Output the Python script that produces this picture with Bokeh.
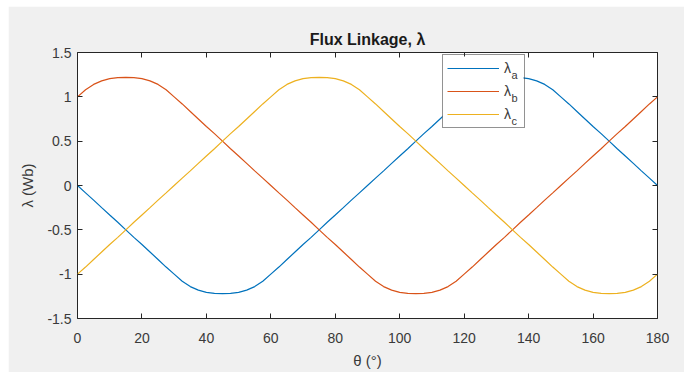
from bokeh.plotting import figure
from bokeh.models import Range1d, FixedTicker, LinearAxis, Legend, LegendItem, Label, BoxAnnotation
from bokeh.embed import file_html
from bokeh.resources import INLINE

# rotor angle (degrees)
theta = [0, 2.5, 5, 7.5, 10, 12.5, 15, 17.5, 20, 22.5, 25, 27.5, 30, 32.5, 35, 37.5,
         40, 42.5, 45, 47.5, 50, 52.5, 55, 57.5, 60, 62.5, 65, 67.5, 70, 72.5, 75, 77.5,
         80, 82.5, 85, 87.5, 90, 92.5, 95, 97.5, 100, 102.5, 105, 107.5, 110, 112.5, 115,
         117.5, 120, 122.5, 125, 127.5, 130, 132.5, 135, 137.5, 140, 142.5, 145, 147.5,
         150, 152.5, 155, 157.5, 160, 162.5, 165, 167.5, 170, 172.5, 175, 177.5, 180]

lambda_a = [0, -0.083, -0.165, -0.25, -0.333, -0.415, -0.5, -0.585, -0.665, -0.75, -0.835,
            -0.92, -1.0, -1.08, -1.14, -1.18, -1.205, -1.217, -1.22,
            -1.217, -1.205, -1.18, -1.14, -1.08, -1.0, -0.92, -0.835, -0.75, -0.665,
            -0.585, -0.5, -0.415, -0.333, -0.25, -0.165, -0.083, 0,
            0.083, 0.165, 0.25, 0.333, 0.415, 0.5, 0.585, 0.665, 0.75, 0.835, 0.92, 1.0,
            1.08, 1.14, 1.18, 1.205, 1.217, 1.22,
            1.217, 1.205, 1.18, 1.14, 1.08, 1.0, 0.92, 0.835, 0.75, 0.665, 0.585, 0.5,
            0.415, 0.333, 0.25, 0.165, 0.083, 0]

lambda_b = [1.0, 1.08, 1.14, 1.18, 1.205, 1.217, 1.22,
            1.217, 1.205, 1.18, 1.14, 1.08, 1.0, 0.92, 0.835, 0.75, 0.665, 0.585, 0.5,
            0.415, 0.333, 0.25, 0.165, 0.083, 0, -0.083, -0.165, -0.25, -0.333, -0.415,
            -0.5, -0.585, -0.665, -0.75, -0.835, -0.92, -1.0, -1.08, -1.14, -1.18, -1.205,
            -1.217, -1.22,
            -1.217, -1.205, -1.18, -1.14, -1.08, -1.0, -0.92, -0.835, -0.75, -0.665, -0.585,
            -0.5, -0.415, -0.333, -0.25, -0.165, -0.083, 0, 0.083, 0.165, 0.25, 0.333,
            0.415, 0.5, 0.585, 0.665, 0.75, 0.835, 0.92, 1.0]

lambda_c = [-1.0, -0.92, -0.835, -0.75, -0.665, -0.585, -0.5, -0.415, -0.333, -0.25, -0.165,
            -0.083, 0, 0.083, 0.165, 0.25, 0.333, 0.415, 0.5, 0.585, 0.665, 0.75, 0.835,
            0.92, 1.0, 1.08, 1.14, 1.18, 1.205, 1.217, 1.22,
            1.217, 1.205, 1.18, 1.14, 1.08, 1.0, 0.92, 0.835, 0.75, 0.665, 0.585, 0.5,
            0.415, 0.333, 0.25, 0.165, 0.083, 0, -0.083, -0.165, -0.25, -0.333, -0.415,
            -0.5, -0.585, -0.665, -0.75, -0.835, -0.92, -1.0, -1.08, -1.14, -1.18, -1.205,
            -1.217, -1.22,
            -1.217, -1.205, -1.18, -1.14, -1.08, -1.0]

series_names = ["a", "b", "c"]
series_colors = ["#0072BD", "#D95319", "#EDB120"]

x_ticks = [0, 20, 40, 60, 80, 100, 120, 140, 160, 180]
y_ticks = [-1.5, -1, -0.5, 0, 0.5, 1, 1.5]
y_tick_labels = ["-1.5", "-1", "-0.5", "0", "0.5", "1", "1.5"]

FONT = "Liberation Sans"
AX = "#262626"
TXT = "#3a3a3a"

p = figure(width=676, height=366, output_backend="svg", toolbar_location=None,
           x_range=Range1d(0, 180), y_range=Range1d(-1.5, 1.5),
           min_border_left=69, min_border_right=27, min_border_top=46, min_border_bottom=54)
p.margin = (6, 0, 0, 8)
p.border_fill_color = "#f0f0f0"
p.background_fill_color = "white"
p.outline_line_color = AX
p.outline_line_width = 1
p.grid.visible = False

p.title.text = "Flux Linkage, \u03bb"
p.title.align = "center"
p.title.text_font = FONT
p.title.text_font_size = "16px"
p.title.text_font_style = "bold"
p.title.text_color = "#1a1a1a"
p.title.standoff = 10

renderers = []
for ys, c in zip([lambda_a, lambda_b, lambda_c], series_colors):
    r = p.line(theta, ys, line_color=c, line_width=1.2)
    renderers.append(r)

def style_axis(ax):
    ax.axis_line_color = None
    ax.major_tick_line_color = AX
    ax.major_tick_in = 5
    ax.major_tick_out = 0
    ax.minor_tick_line_color = None
    ax.major_label_text_font = FONT
    ax.major_label_text_font_size = "14px"
    ax.major_label_text_color = TXT
    ax.axis_label_text_font = FONT
    ax.axis_label_text_font_size = "15px"
    ax.axis_label_text_font_style = "normal"
    ax.axis_label_text_color = TXT

xa = p.xaxis[0]
style_axis(xa)
xa.ticker = FixedTicker(ticks=x_ticks)
xa.major_label_standoff = 14
xa.axis_label = "\u03b8 (\u00b0)"
xa.axis_label_standoff = 6

ya = p.yaxis[0]
style_axis(ya)
ya.ticker = FixedTicker(ticks=y_ticks)
ya.major_label_overrides = {t: l for t, l in zip(y_ticks, y_tick_labels)}
ya.major_label_standoff = 6
ya.axis_label = "\u03bb (Wb)"
ya.axis_label_standoff = 8

top = LinearAxis(ticker=FixedTicker(ticks=x_ticks))
style_axis(top)
top.major_label_overrides = {t: "" for t in x_ticks}
top.major_label_standoff = 0
p.add_layout(top, "above")

right = LinearAxis(ticker=FixedTicker(ticks=y_ticks))
style_axis(right)
right.major_label_overrides = {t: "" for t in y_ticks}
right.major_label_standoff = 0
p.add_layout(right, "right")

# white backing for the legend box (legend itself is transparent so subscripts show)
p.add_layout(BoxAnnotation(left=365, right=446, bottom=190, top=262,
                           left_units="screen", right_units="screen",
                           bottom_units="screen", top_units="screen",
                           fill_color="white", fill_alpha=1, line_color=None,
                           level="overlay"))

legend = Legend(items=[LegendItem(label="\u03bb", renderers=[r]) for r in renderers],
                location=(365, 190), orientation="vertical")
legend.glyph_width = 52
legend.glyph_height = 18
legend.label_height = 18
legend.label_width = 16
legend.spacing = 5
legend.padding = 4
legend.margin = 0
legend.label_standoff = 5
legend.border_line_color = AX
legend.border_line_width = 1.5
legend.background_fill_alpha = 0
legend.label_text_font = FONT
legend.label_text_font_size = "14px"
legend.label_text_color = TXT
p.add_layout(legend)

for name, yy in zip(series_names, [244, 221, 198]):
    p.add_layout(Label(x=434, y=yy, x_units="screen", y_units="screen", text=name,
                       text_font=FONT, text_font_size="11px", text_color=TXT,
                       text_baseline="middle", text_align="left", level="overlay"))

open("out.html", "w").write(file_html(p, INLINE))
